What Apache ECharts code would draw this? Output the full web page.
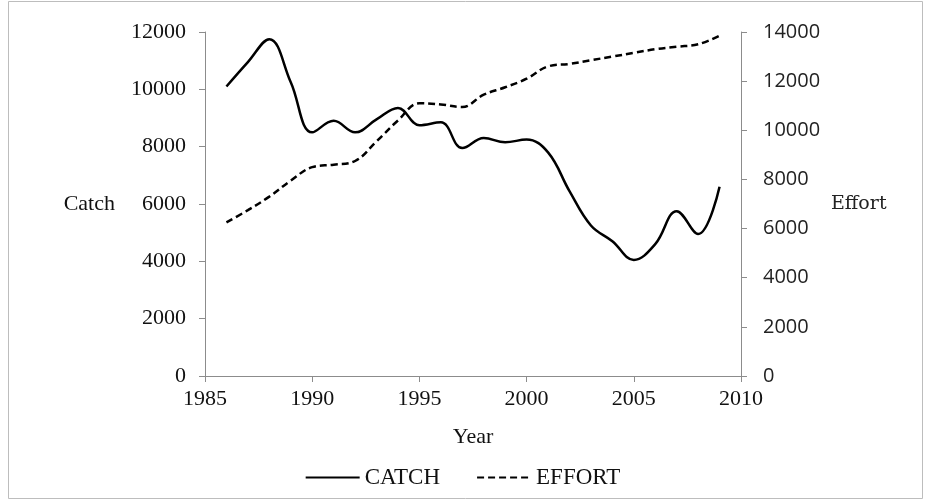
<!DOCTYPE html>
<html>
<head>
<meta charset="utf-8">
<title>Catch and Effort</title>
<script src="https://cdn.jsdelivr.net/npm/echarts@6/dist/echarts.min.js"></script>
<style>
  html, body { margin: 0; padding: 0; background: #fff; }
  #chart { width: 925px; height: 501px; }
</style>
</head>
<body>
<div id="chart"></div>
<script>
// Annual catch (left axis) and fishing effort (right axis)
const years = [1986, 1987, 1988, 1989, 1990, 1991, 1992, 1993, 1994, 1995, 1996, 1997,
               1998, 1999, 2000, 2001, 2002, 2003, 2004, 2005, 2006, 2007, 2008, 2009];
const catchValues = [10100, 10950, 11750, 10250, 8500, 8900, 8500, 8950, 9350, 8750, 8850, 7950,
                     8300, 8150, 8250, 7800, 6450, 5250, 4700, 4050, 4600, 5750, 4950, 6600];
const effortValues = [6250, 6750, 7300, 7950, 8500, 8600, 8750, 9550, 10400, 11100, 11050, 10950,
                      11450, 11750, 12100, 12600, 12700, 12850, 13000, 13150, 13300, 13400, 13500, 13850];
const yearTicks = { min: 1985, max: 2010, step: 5 };
const catchTicks = { min: 0, max: 12000, step: 2000 };
const effortTicks = { min: 0, max: 14000, step: 2000 };

const serif = '"Liberation Serif", "Times New Roman", serif';
const axisGray = '#8c8c8c';
const plain = (v) => String(v);

const chart = echarts.init(document.getElementById('chart'), null, { renderer: 'canvas' });

const pairs = (vals) => years.map((y, i) => [y, vals[i]]);

chart.setOption({
  animation: false,
  backgroundColor: '#fff',
  grid: { left: 205, right: 184, top: 32, bottom: 125, containLabel: false },
  graphic: [{
    type: 'rect',
    shape: { x: 8.5, y: 1.5, width: 914, height: 497 },
    style: { fill: 'none', stroke: '#bdbdbd', lineWidth: 1 },
    silent: true, z: -1
  }],
  legend: {
    top: 461,
    left: 'center',
    itemWidth: 54,
    itemHeight: 14,
    itemGap: 36,
    itemStyle: { opacity: 0 },
    textStyle: { fontFamily: serif, fontSize: 23, color: '#111' },
    data: ['CATCH', 'EFFORT']
  },
  xAxis: {
    type: 'value',
    min: yearTicks.min, max: yearTicks.max, interval: yearTicks.step,
    name: 'Year', nameLocation: 'middle', nameGap: 50,
    nameTextStyle: { fontFamily: serif, fontSize: 22, color: '#111' },
    axisLine: { show: true, lineStyle: { color: axisGray, width: 1 } },
    axisTick: { show: true, inside: false, length: 6, lineStyle: { color: axisGray } },
    axisLabel: { fontFamily: serif, fontSize: 22, color: '#111', margin: 12, formatter: plain },
    splitLine: { show: false }
  },
  yAxis: [{
    type: 'value', position: 'left',
    min: catchTicks.min, max: catchTicks.max, interval: catchTicks.step,
    name: 'Catch', nameLocation: 'middle', nameRotate: 0, nameGap: 90,
    nameTextStyle: { fontFamily: serif, fontSize: 22, color: '#111' },
    axisLine: { show: true, lineStyle: { color: axisGray, width: 1 } },
    axisTick: { show: true, inside: false, length: 6, lineStyle: { color: axisGray } },
    axisLabel: { fontFamily: serif, fontSize: 22, color: '#111', margin: 19, formatter: plain },
    splitLine: { show: false }
  }, {
    type: 'value', position: 'right',
    min: effortTicks.min, max: effortTicks.max, interval: effortTicks.step,
    name: 'Effort', nameLocation: 'middle', nameRotate: 0, nameGap: 90,
    nameTextStyle: { fontFamily: '"DejaVu Serif", serif', fontSize: 19, color: '#222' },
    axisLine: { show: true, lineStyle: { color: axisGray, width: 1 } },
    axisTick: { show: true, inside: false, length: 6, lineStyle: { color: axisGray } },
    axisLabel: { fontFamily: '"Open Sans", sans-serif', fontSize: 20, color: '#222', margin: 22, formatter: plain },
    splitLine: { show: false }
  }],
  series: [{
    name: 'CATCH',
    type: 'line',
    yAxisIndex: 0,
    data: pairs(catchValues),
    smooth: 0.4,
    symbol: 'none',
    lineStyle: { color: '#000', width: 2.5, type: 'solid' },
    itemStyle: { color: '#000' }
  }, {
    name: 'EFFORT',
    type: 'line',
    yAxisIndex: 1,
    data: pairs(effortValues),
    smooth: 0.4,
    symbol: 'none',
    lineStyle: { color: '#000', width: 2.5, type: [7, 4] },
    itemStyle: { color: '#000' }
  }]
});
</script>
</body>
</html>
